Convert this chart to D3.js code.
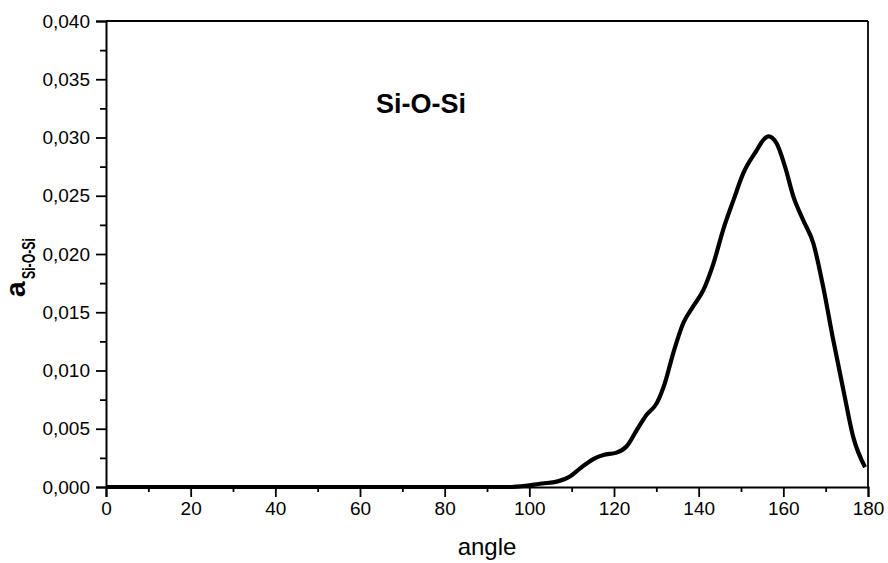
<!DOCTYPE html>
<html>
<head>
<meta charset="utf-8">
<script src="https://cdn.jsdelivr.net/npm/d3@7/dist/d3.min.js"></script>
<style>
  html, body { margin: 0; padding: 0; background: #fff; }
  svg { display: block; }
  text { font-family: "Liberation Sans", Arial, sans-serif; fill: #000; }
</style>
</head>
<body>
<svg id="chart" width="888" height="563"></svg>
<script>
// Si-O-Si bond angle distribution
const angles = [0, 20, 40, 60, 80, 95, 100, 103, 106.5, 109.6, 112, 115.1, 117.5, 120.6, 123, 125.4,
  127.7, 130.1, 132, 134, 136.4, 138.7, 141.1, 143.5, 145.8, 148.2, 150.5, 153.7, 155.3, 156.5,
  158.4, 160.4, 162.4, 164.7, 167.1, 169.4, 171.8, 174.2, 176.5, 179.3];
const values = [0, 0, 0, 0, 0, 0, 0.00015, 0.0003, 0.00046, 0.0009, 0.0016, 0.0024, 0.00275, 0.00295,
  0.0035, 0.0049, 0.0062, 0.0072, 0.0089, 0.0115, 0.0141, 0.0155, 0.0169, 0.0192, 0.0221, 0.0246,
  0.0269, 0.0289, 0.0298, 0.0301, 0.0295, 0.0275, 0.0249, 0.0229, 0.0209, 0.0172, 0.0126, 0.0083,
  0.0043, 0.0017];

const xMajorTicks = [0, 20, 40, 60, 80, 100, 120, 140, 160, 180];
const xMinorTicks = [10, 30, 50, 70, 90, 110, 130, 150, 170];
const yMajorTicks = [0, 0.005, 0.010, 0.015, 0.020, 0.025, 0.030, 0.035, 0.040];
const yMinorTicks = [0.0025, 0.0075, 0.0125, 0.0175, 0.0225, 0.0275, 0.0325, 0.0375];

const titleText = "Si-O-Si";
const xTitle = "angle";
const yTitleMain = "a";
const yTitleSub = "Si-O-Si";

const svg = d3.select("#chart");
const plotLeft = 106, plotRight = 868, plotTop = 21, plotBottom = 487;

const x = d3.scaleLinear().domain([0, 180]).range([plotLeft, plotRight]);
const y = d3.scaleLinear().domain([0, 0.04]).range([plotBottom, plotTop]);

const fmtY = v => d3.format(".3f")(v).replace(".", ",");

// frame: top and right borders
svg.append("line").attr("x1", plotLeft).attr("x2", plotRight).attr("y1", plotTop).attr("y2", plotTop)
  .attr("stroke", "#000").attr("stroke-width", 1.8);
svg.append("line").attr("x1", plotRight).attr("x2", plotRight).attr("y1", plotTop).attr("y2", plotBottom)
  .attr("stroke", "#000").attr("stroke-width", 1.8);

// bottom axis
const xAxis = svg.append("g").attr("transform", `translate(0,${plotBottom})`)
  .call(d3.axisBottom(x).tickValues(xMajorTicks).tickSize(10).tickPadding(5).tickFormat(d3.format("d")));
xAxis.select(".domain").attr("stroke-width", 2);
xAxis.selectAll(".tick line").attr("stroke-width", 1.8);
xAxis.selectAll(".tick text").attr("font-size", 19).attr("font-family", "Liberation Sans, Arial, sans-serif");
const xMinor = svg.append("g").attr("transform", `translate(0,${plotBottom})`)
  .call(d3.axisBottom(x).tickValues(xMinorTicks).tickSize(5).tickFormat(""));
xMinor.select(".domain").remove();
xMinor.selectAll(".tick line").attr("stroke-width", 1.8);

// left axis
const yAxis = svg.append("g").attr("transform", `translate(${plotLeft},0)`)
  .call(d3.axisLeft(y).tickValues(yMajorTicks).tickSize(10).tickPadding(6).tickFormat(fmtY));
yAxis.select(".domain").attr("stroke-width", 2);
yAxis.selectAll(".tick line").attr("stroke-width", 1.8);
yAxis.selectAll(".tick text").attr("font-size", 19).attr("font-family", "Liberation Sans, Arial, sans-serif");
const yMinor = svg.append("g").attr("transform", `translate(${plotLeft},0)`)
  .call(d3.axisLeft(y).tickValues(yMinorTicks).tickSize(6).tickFormat(""));
yMinor.select(".domain").remove();
yMinor.selectAll(".tick line").attr("stroke-width", 1.8);

// distribution curve
const pts = angles.map((a, i) => [a, values[i]]);
const line = d3.line().x(d => x(d[0])).y(d => y(d[1])).curve(d3.curveMonotoneX);
svg.append("path").datum(pts).attr("d", line)
  .attr("fill", "none").attr("stroke", "#000").attr("stroke-width", 4.2)
  .attr("stroke-linejoin", "round");

// title inside the plot
svg.append("text").attr("x", 376).attr("y", 113)
  .attr("font-size", 27).attr("font-weight", "bold").text(titleText);

// x axis title
svg.append("text").attr("x", (plotLeft + plotRight) / 2).attr("y", 555)
  .attr("text-anchor", "middle").attr("font-size", 24).text(xTitle);

// y axis title with subscript
const yt = svg.append("g").attr("transform", "rotate(-90)");
yt.append("text").attr("x", -297).attr("y", 25)
  .attr("font-size", 28).attr("font-weight", "bold").text(yTitleMain);
yt.append("text").attr("x", -279).attr("y", 35)
  .attr("font-size", 18).attr("font-weight", "bold")
  .attr("textLength", 41).attr("lengthAdjust", "spacingAndGlyphs").text(yTitleSub);
</script>
</body>
</html>
